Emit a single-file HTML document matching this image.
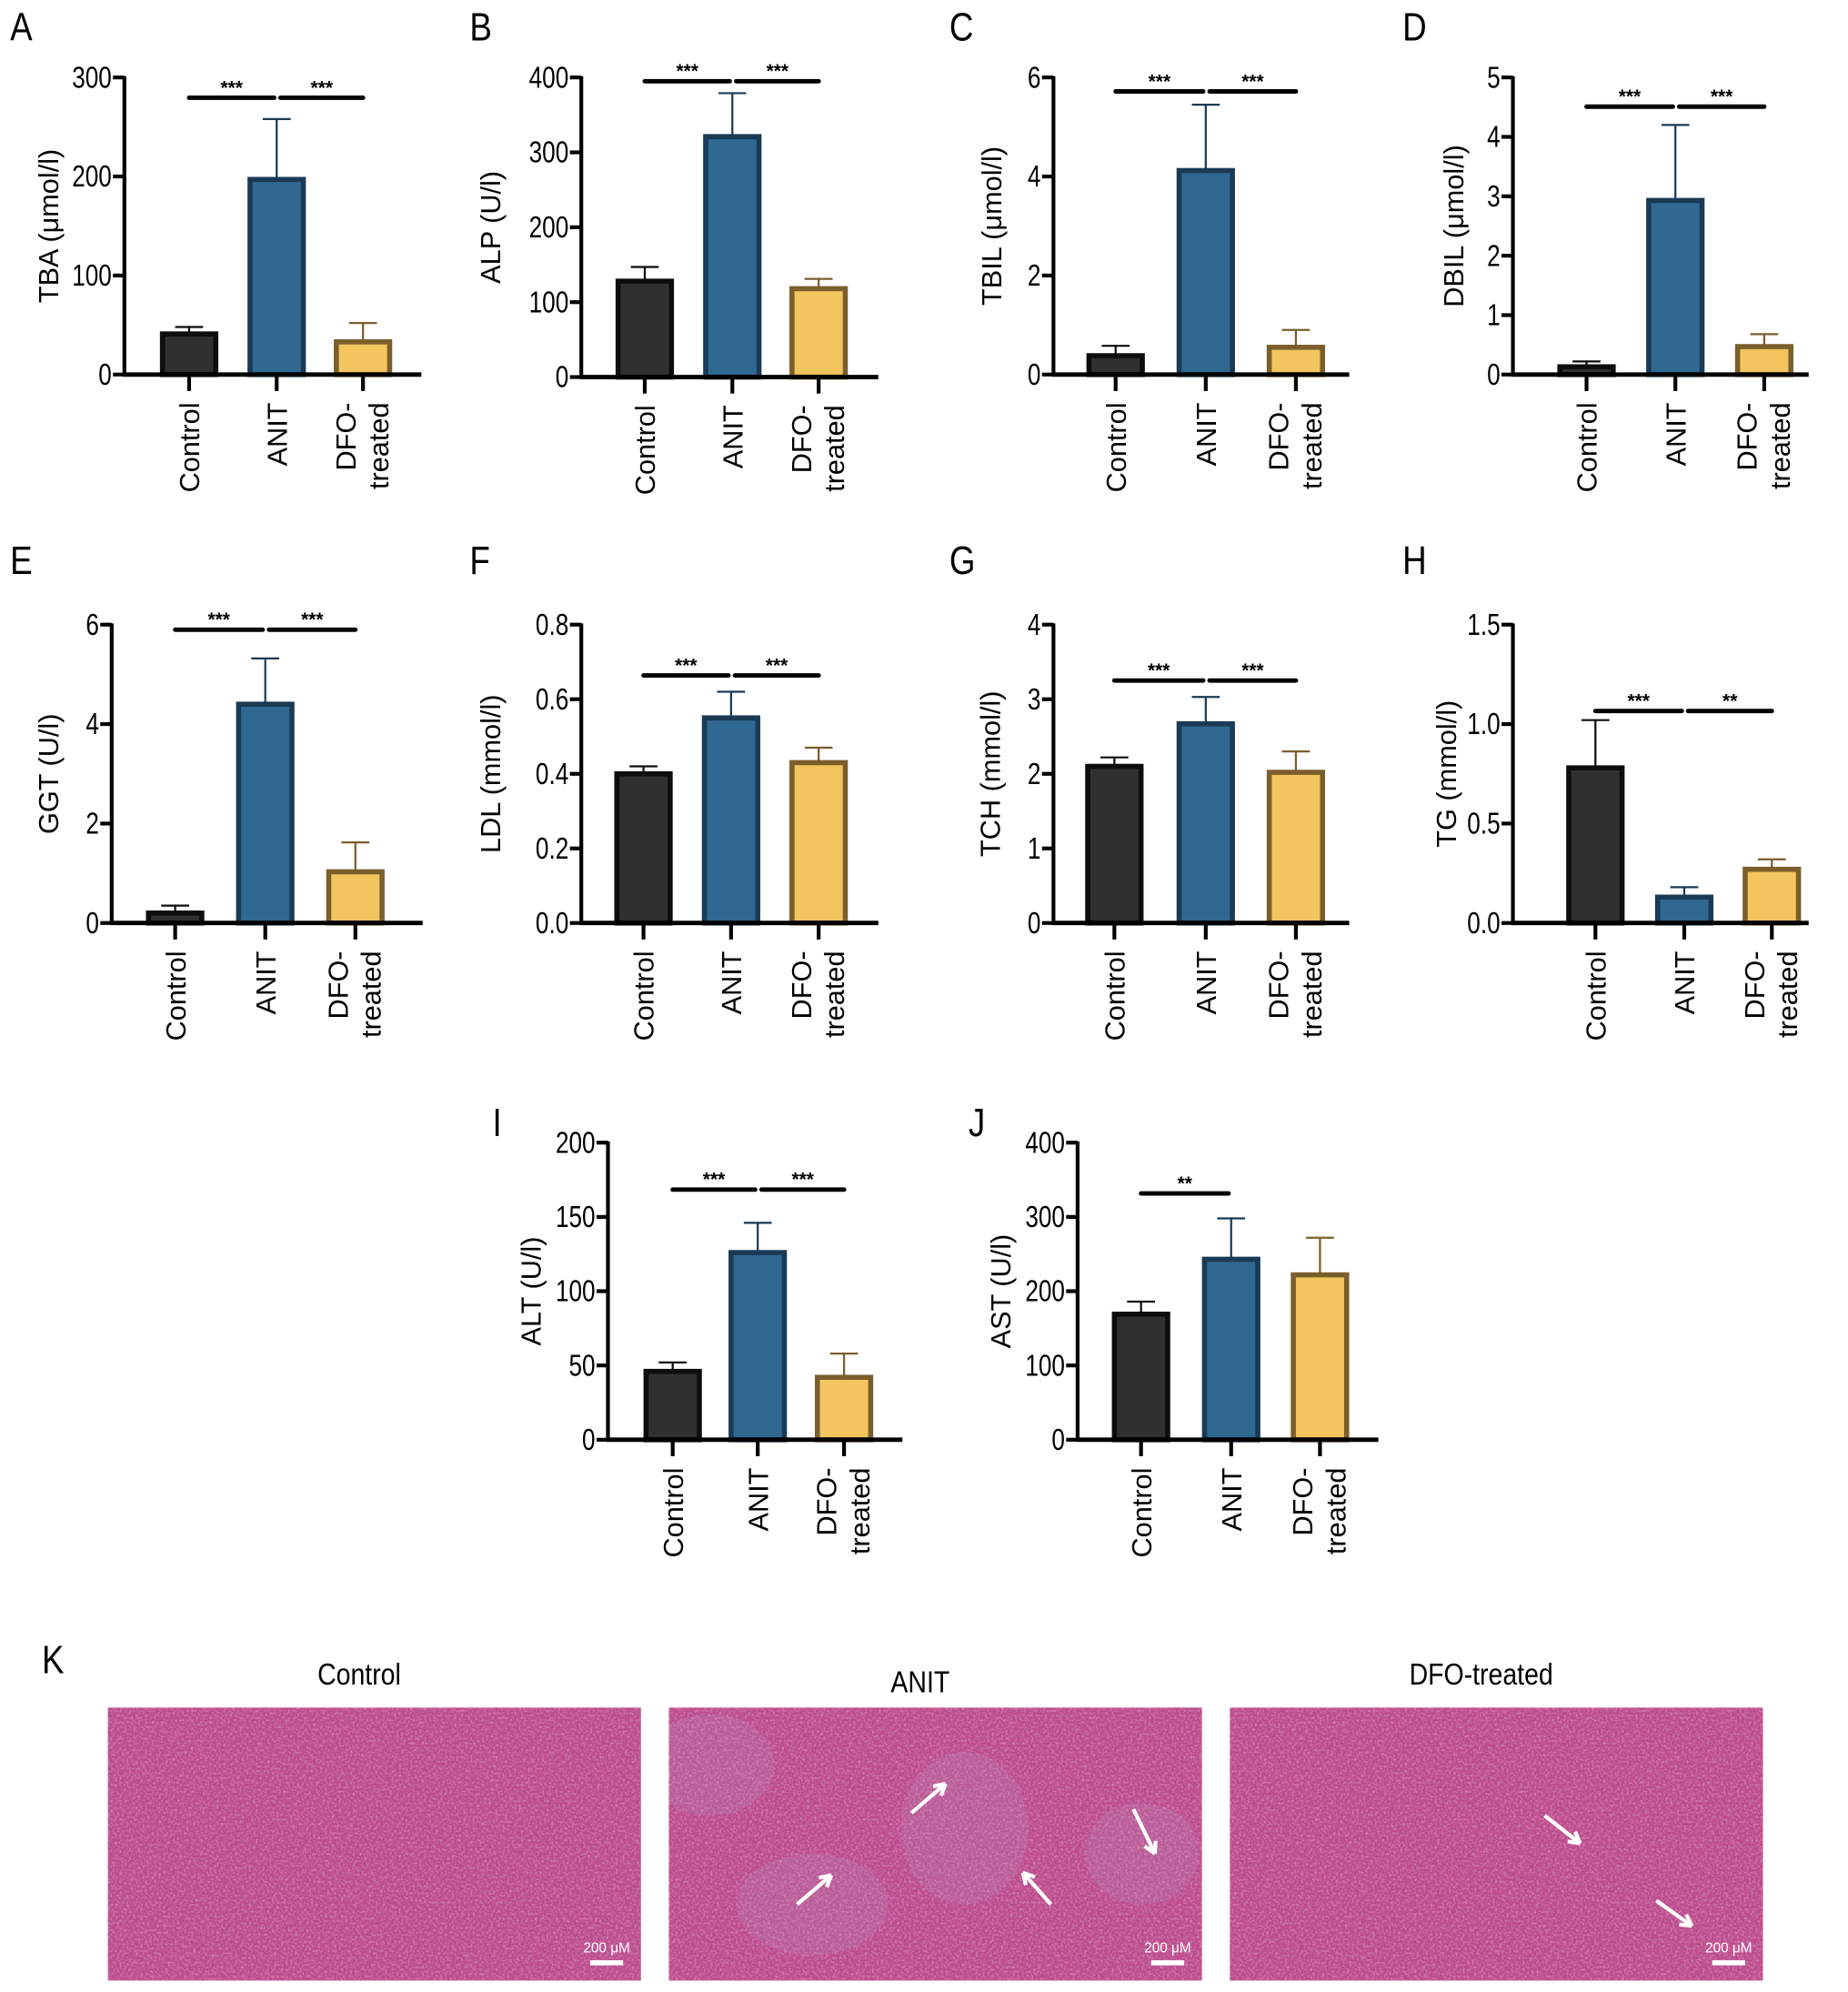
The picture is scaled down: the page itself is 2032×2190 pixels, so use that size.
<!DOCTYPE html>
<html><head><meta charset="utf-8"><style>
html,body{margin:0;padding:0;background:#fff;}
svg{display:block;font-family:"Liberation Sans",Arial,sans-serif;}
</style></head><body>
<svg id="fig" xmlns="http://www.w3.org/2000/svg" width="2032" height="2190" viewBox="0 0 1456 1569" preserveAspectRatio="none">
<defs>
<filter id="tissue" x="0" y="0" width="100%" height="100%">
<feTurbulence type="fractalNoise" baseFrequency="0.55" numOctaves="2" seed="3" result="n"/>
<feColorMatrix in="n" type="matrix" values="0 0 0 0 0.85  0 0 0 0 0.55  0 0 0 0 0.8  0 0 0 -2.2 1.25" result="c"/>
<feComposite in="c" in2="SourceGraphic" operator="in"/>
</filter>
<filter id="tissue2" x="0" y="0" width="100%" height="100%">
<feTurbulence type="fractalNoise" baseFrequency="0.9" numOctaves="1" seed="7" result="n"/>
<feColorMatrix in="n" type="matrix" values="0 0 0 0 0.35  0 0 0 0 0.15  0 0 0 0 0.45  0 0 0 -3 1.6" result="c"/>
<feComposite in="c" in2="SourceGraphic" operator="in"/>
</filter>
<clipPath id="clipAnit"><rect x="527" y="1345" width="420" height="215"/></clipPath>
</defs>
<g id="charts"></g>
<g id="histo"></g>
</svg>
<script>
// ---- data arrays ----
const categories = ['Control','ANIT','DFO-treated'];
const tbaMeans=[41,197,33];   const tbaErr=[48,258,52];   const tbaTicks=['0','100','200','300'];
const alpMeans=[128,321,118]; const alpErr=[147,379,131]; const alpTicks=['0','100','200','300','400'];
const tbilMeans=[0.38,4.12,0.55]; const tbilErr=[0.58,5.45,0.9]; const tbilTicks=['0','2','4','6'];
const dbilMeans=[0.13,2.93,0.47]; const dbilErr=[0.22,4.2,0.68]; const dbilTicks=['0','1','2','3','4','5'];
const ggtMeans=[0.2,4.4,1.03]; const ggtErr=[0.35,5.32,1.62]; const ggtTicks=['0','2','4','6'];
const ldlMeans=[0.4,0.55,0.43]; const ldlErr=[0.42,0.62,0.47]; const ldlTicks=['0.0','0.2','0.4','0.6','0.8'];
const tchMeans=[2.1,2.67,2.02]; const tchErr=[2.22,3.03,2.3]; const tchTicks=['0','1','2','3','4'];
const tgMeans=[0.78,0.13,0.27]; const tgErr=[1.02,0.18,0.32]; const tgTicks=['0.0','0.5','1.0','1.5'];
const altMeans=[46,126,42]; const altErr=[52,146,58]; const altTicks=['0','50','100','150','200'];
const astMeans=[169,243,222]; const astErr=[186,298,272]; const astTicks=['0','100','200','300','400'];
const sig3=['***','***']; const sigTG=['***','**']; const sigAST=['**'];

const NS='http://www.w3.org/2000/svg';
function mk(tag,attrs,parent){const e=document.createElementNS(NS,tag);for(const k in attrs)e.setAttribute(k,attrs[k]);parent.appendChild(e);return e;}

const fills=['#303030','#2f6890','#f2c55f'];
const strokes=['#0d0d0d','#1a3a55','#7a5e2c'];

const panels=[
 {id:'a',letter:'A',lx:8,ly:32,title:'TBA (\u03bcmol/l)',means:tbaMeans,err:tbaErr,ticks:tbaTicks,ax:98,top:61,zero:295,right:332,cx:[149,218,286],sig:sig3,sigY:77,tx:38},
 {id:'b',letter:'B',lx:370,ly:32,title:'ALP (U/l)',means:alpMeans,err:alpErr,ticks:alpTicks,ax:458,top:61,zero:297,right:692,cx:[508,577,645],sig:sig3,sigY:64,tx:386},
 {id:'c',letter:'C',lx:748,ly:32,title:'TBIL (\u03bcmol/l)',means:tbilMeans,err:tbilErr,ticks:tbilTicks,ax:830,top:61,zero:295,right:1063,cx:[879,950,1021],sig:sig3,sigY:72,tx:781},
 {id:'d',letter:'D',lx:1105,ly:32,title:'DBIL (\u03bcmol/l)',means:dbilMeans,err:dbilErr,ticks:dbilTicks,ax:1192,top:61,zero:295,right:1425,cx:[1250,1320,1390],sig:sig3,sigY:84,tx:1145},
 {id:'e',letter:'E',lx:8,ly:452,title:'GGT (U/l)',means:ggtMeans,err:ggtErr,ticks:ggtTicks,ax:88,top:492,zero:727,right:333,cx:[138,209,280],sig:sig3,sigY:496,tx:38},
 {id:'f',letter:'F',lx:370,ly:452,title:'LDL (mmol/l)',means:ldlMeans,err:ldlErr,ticks:ldlTicks,ax:458,top:492,zero:727,right:692,cx:[507,576,645],sig:sig3,sigY:532,tx:386},
 {id:'g',letter:'G',lx:748,ly:452,title:'TCH (mmol/l)',means:tchMeans,err:tchErr,ticks:tchTicks,ax:830,top:492,zero:727,right:1063,cx:[878,950,1021],sig:sig3,sigY:536,tx:780},
 {id:'h',letter:'H',lx:1105,ly:452,title:'TG (mmol/l)',means:tgMeans,err:tgErr,ticks:tgTicks,ax:1192,top:492,zero:727,right:1425,cx:[1257,1327,1396],sig:sigTG,sigY:560,tx:1139},
 {id:'i',letter:'I',lx:388,ly:895,title:'ALT (U/l)',means:altMeans,err:altErr,ticks:altTicks,ax:479,top:900,zero:1134,right:711,cx:[530,597,665],sig:sig3,sigY:937,tx:418},
 {id:'j',letter:'J',lx:763,ly:895,title:'AST (U/l)',means:astMeans,err:astErr,ticks:astTicks,ax:849,top:900,zero:1134,right:1086,cx:[899,970,1040],sig:sigAST,sigY:940,tx:788}
];

const root=document.getElementById('charts');
panels.forEach(p=>{
 const g=mk('g',{},root);
 
 
 const maxV=parseFloat(p.ticks[p.ticks.length-1]);
 const y=v=>p.zero-(v/maxV)*(p.zero-p.top);
 const L=mk('text',{x:0,y:0,'font-size':31,transform:`translate(${p.lx},${p.ly}) scale(0.85,1)`},g); L.textContent=p.letter;
 
 
 const ym=(p.top+p.zero)/2;
 const t=mk('text',{x:p.tx+8,y:ym,'font-size':22,'text-anchor':'middle',transform:`rotate(-90 ${p.tx+8} ${ym})`},g);
 t.textContent=p.title;
 
 
 p.means.forEach((m,i)=>{
  const bw=42;
  const e=mk('line',{x1:p.cx[i],x2:p.cx[i],y1:y(m),y2:y(p.err[i]),stroke:strokes[i],'stroke-width':1.6},g);
  
  
  const c=mk('line',{x1:p.cx[i]-11,x2:p.cx[i]+11,y1:y(p.err[i]),y2:y(p.err[i]),stroke:strokes[i],'stroke-width':1.6},g);
  
  
  const r=mk('rect',{x:p.cx[i]-bw/2,y:y(m),width:bw,height:p.zero-y(m),fill:fills[i],stroke:strokes[i],'stroke-width':4},g);
  
  
 });
 const ya=mk('line',{x1:p.ax,x2:p.ax,y1:p.top-1,y2:p.zero+1.5,stroke:'#000','stroke-width':3},g);
 
 
 const xa=mk('line',{x1:p.ax-1,x2:p.right,y1:p.zero,y2:p.zero,stroke:'#000','stroke-width':3.5},g);
 
 
 p.ticks.forEach(tk=>{
  const ty=y(parseFloat(tk));
  mk('line',{x1:p.ax-9,x2:p.ax,y1:ty,y2:ty,stroke:'#000','stroke-width':3},g);
  const tl=mk('text',{x:0,y:0,'font-size':24,'text-anchor':'end',transform:`translate(${p.ax-10},${ty+8}) scale(0.78,1)`},g);
  tl.textContent=tk;
  
  
 });
 p.cx.forEach((cx,i)=>{
  mk('line',{x1:cx,x2:cx,y1:p.zero,y2:p.zero+13,stroke:'#000','stroke-width':3},g);
  const by=p.zero+22;
  if(i<2){
   const cl=mk('text',{x:cx+8,y:by,'font-size':22,'text-anchor':'end',transform:`rotate(-90 ${cx+8} ${by})`},g);
   cl.textContent=categories[i];
   
   
  } else {
   const a=mk('text',{x:cx-6,y:by,'font-size':22,'text-anchor':'end',transform:`rotate(-90 ${cx-6} ${by})`},g);
   a.textContent='DFO-';
   
   
   const b=mk('text',{x:cx+20,y:by,'font-size':22,'text-anchor':'end',transform:`rotate(-90 ${cx+20} ${by})`},g);
   b.textContent='treated';
   
   
  }
 });
 p.sig.forEach((s,k)=>{
  const x1=p.cx[k]+ (k===0?0:3), x2=p.cx[k+1]-(k===0?2:0);
  const l=mk('line',{x1:x1,x2:x2,y1:p.sigY,y2:p.sigY,stroke:'#000','stroke-width':3.5,'stroke-linecap':'round'},g);
  
  
  const st=mk('text',{x:(x1+x2)/2,y:p.sigY-3,'font-size':15,'font-weight':'bold','text-anchor':'middle'},g);
  st.textContent=s;
  
  
 });
});

// ---- histology ----
const H=document.getElementById('histo');
const kl=mk('text',{x:0,y:0,'font-size':31,transform:'translate(33,1318) scale(0.85,1)'},H); kl.textContent='K';


const imgs=[{x:85,t:'Control',ty:1327},{x:527,t:'ANIT',ty:1333},{x:969,t:'DFO-treated',ty:1327}];
const arrows=[[],[[718,1428,745,1405],[628,1500,655,1477],[828,1500,806,1475],[893,1425,910,1460]],[[1217,1430,1245,1452],[1305,1497,1333,1517]]];
imgs.forEach((im,k)=>{
 const g=mk('g',{},H);
 
 
 const tt=mk('text',{x:0,y:0,'font-size':24,'text-anchor':'middle',transform:`translate(${im.x+198},${im.ty}) scale(0.85,1)`},g); tt.textContent=im.t;
 
 
 mk('rect',{x:im.x,y:1345,width:420,height:215,fill:'#c04a88'},g);
 mk('rect',{x:im.x,y:1345,width:420,height:215,fill:'#fff',filter:'url(#tissue)',opacity:0.55},g);
 mk('rect',{x:im.x,y:1345,width:420,height:215,fill:'#fff',filter:'url(#tissue2)',opacity:0.45},g);
 if(k===1){
  const cg=mk('g',{'clip-path':'url(#clipAnit)'},g);
  [[560,1390,50,40],[760,1440,50,60],[900,1460,45,40],[640,1500,60,40]].forEach(b=>mk('ellipse',{cx:b[0],cy:b[1],rx:b[2],ry:b[3],fill:'#b49ac4',opacity:0.2},cg));
 }
 const sb=mk('text',{x:im.x+393,y:1538,'font-size':11,fill:'#fff','text-anchor':'middle'},g); sb.textContent='200 \u03bcM';
 
 
 mk('rect',{x:im.x+380,y:1544,width:26,height:4,fill:'#fff'},g);
 arrows[k].forEach(a=>{
  const ang=Math.atan2(a[3]-a[1],a[2]-a[0]);
  const ar=mk('g',{},g);
  
  
  mk('line',{x1:a[0],y1:a[1],x2:a[2],y2:a[3],stroke:'#fff','stroke-width':3},ar);
  const h=10;
  [0.5,-0.5].forEach(d=>mk('line',{x1:a[2],y1:a[3],x2:a[2]-h*Math.cos(ang+d),y2:a[3]-h*Math.sin(ang+d),stroke:'#fff','stroke-width':3},ar));
 });
});
</script>
</body></html>
